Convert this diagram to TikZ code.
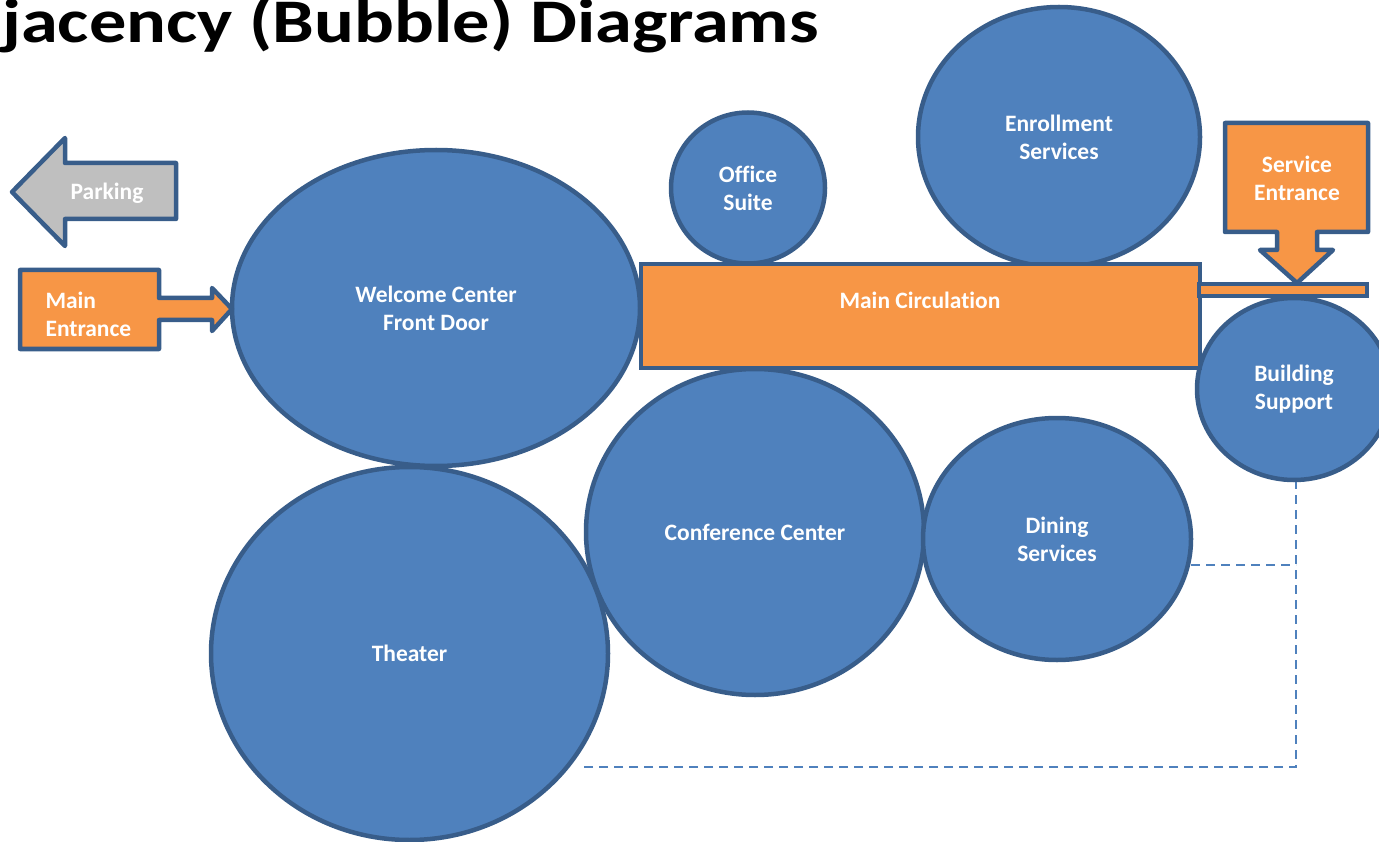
\documentclass[tikz,border=0pt]{standalone}
\usepackage{fontspec}
\setmainfont{Carlito}[Ligatures=CommonOff]
\usetikzlibrary{shapes}

\definecolor{bubblefill}{HTML}{4F81BD}
\definecolor{bubbleline}{HTML}{385D8A}
\definecolor{orangefill}{HTML}{F79646}
\definecolor{grayfill}{HTML}{BFBFBF}

\begin{document}
\begin{tikzpicture}[x=1pt,y=-1pt,
            bubble/.style={draw=bubbleline,fill=bubblefill,ellipse,line width=4.5pt,inner sep=0pt},
            corridor/.style={draw=bubbleline,fill=orangefill,rectangle,line width=4.5pt,inner sep=0pt},
            entry/.style={draw=bubbleline,line width=4.5pt,line join=round},
            lab/.style={text=white,font=\bfseries\fontsize{23.5}{28}\selectfont,align=center},
            link/.style={draw=bubblefill,line width=1.8pt,dash pattern=on 9pt off 6pt}
          ]
          \clip (0,0) rectangle (1379,842);

          %title
          \node[anchor=base west,inner sep=0pt,xscale=1.2,font=\bfseries\fontsize{62}{70}\selectfont] (title) at (2,43) {jacency (Bubble) Diagrams};

          %links
          \coordinate (bsupbot) at (1296,480);
          \coordinate (theaterend) at (582,767);
          \coordinate (diningend) at (1191,565);
          \draw[link] (bsupbot) |- (theaterend);
          \draw[link] (diningend) -- (diningend -| bsupbot);

          %bubbles
          \node[bubble,lab,minimum width=408,minimum height=316] (welcome) at (436,308) {Welcome Center\\Front Door};
          \node[bubble,lab,minimum width=397,minimum height=373] (theater) at (409.5,653.5) {Theater};
          \node[bubble,lab,minimum width=338,minimum height=326] (conference) at (755,532) {Conference Center};
          \node[bubble,lab,minimum width=268,minimum height=242] (dining) at (1057,539) {Dining\\Services};
          \node[bubble,lab,minimum width=154,minimum height=151] (office) at (748,188) {Office\\Suite};
          \node[bubble,lab,minimum width=282,minimum height=260] (enroll) at (1059,137) {Enrollment\\Services};
          \node[bubble,lab,minimum width=194,minimum height=182] (bsup) at (1294,389) {Building\\Support};

          %circulation
          \node[corridor,minimum width=559,minimum height=104] (circ) at (920.5,316) {};
          \node[lab] (circlab) at (920,300) {Main Circulation};
          \node[corridor,minimum width=168,minimum height=12] (bar) at (1283,290) {};

          %entrances
          \draw[entry,fill=grayfill] (12,192) -- (65,138) -- (65,163) -- (176,163) -- (176,219)
            -- (65,219) -- (65,246) -- cycle;
          \node[lab] (parking) at (107,193) {Parking};
          \draw[entry,fill=orangefill] (20,270) -- (159,270) -- (159,298) -- (212,298) -- (212,288)
            -- (232,309) -- (212,331) -- (212,320) -- (159,320) -- (159,349) -- (20,349) -- cycle;
          \node[lab,align=left,anchor=west] (mainent) at (42,314) {Main\\Entrance};
          \draw[entry,fill=orangefill] (1225,123) -- (1368,123) -- (1368,232) -- (1317,232) -- (1317,250)
            -- (1333,250) -- (1297,283) -- (1260,250) -- (1277,250) -- (1277,232) -- (1225,232) -- cycle;
          \node[lab] (service) at (1297,178) {Service\\Entrance};

      \end{tikzpicture}
\end{document}
